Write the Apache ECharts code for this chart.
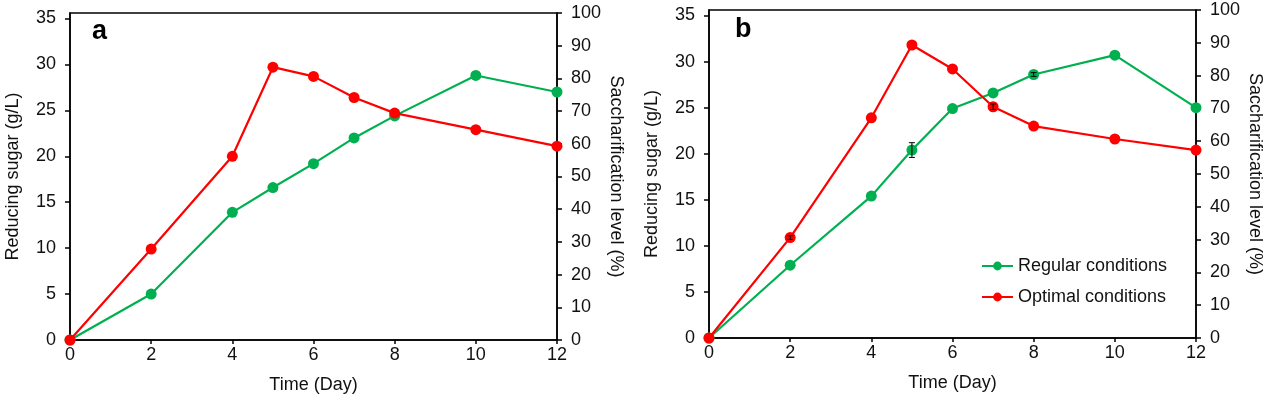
<!DOCTYPE html>
<html>
<head>
<meta charset="utf-8">
<script src="https://cdn.jsdelivr.net/npm/echarts@6/dist/echarts.min.js"></script>
<style>
  html, body { margin: 0; padding: 0; background: #fff; }
  #chart { width: 1269px; height: 399px; }
</style>
</head>
<body>
<div id="chart"></div>
<script>
// time points (days)
const days = [0, 2, 4, 5, 6, 7, 8, 10, 12];

// panel a – reducing sugar (g/L)
const regularA = [0, 5.0, 13.9, 16.6, 19.2, 22.0, 24.4, 28.8, 27.0];
const optimalA = [0, 9.9, 20.0, 29.7, 28.7, 26.4, 24.7, 22.9, 21.1];

// panel b – reducing sugar (g/L)
const regularB = [0, 7.9, 15.4, 20.4, 24.9, 26.6, 28.6, 30.7, 25.0];
const optimalB = [0, 10.9, 23.9, 31.8, 29.2, 25.1, 23.0, 21.6, 20.4];

// error bars visible in panel b: [day, low, high]
const errRegularB = [[5, 19.6, 21.2], [8, 28.4, 28.8]];
const errOptimalB = [[2, 10.7, 11.1], [7, 24.8, 25.4]];

const leftTicks = [0, 5, 10, 15, 20, 25, 30, 35];

const GREEN = "#00b050";
const RED = "#ff0000";
const FONT = "'Liberation Sans', Arial, sans-serif";

const chart = echarts.init(document.getElementById("chart"));

const axisLine = { show: true, lineStyle: { color: "#000", width: 1.5 } };
const axisLabel = { color: "#111", fontSize: 18, fontFamily: FONT };
const nameStyle = { color: "#111", fontSize: 18, fontFamily: FONT };

function xAxis(gridIndex) {
  return {
    type: "value",
    gridIndex,
    min: 0,
    max: 12,
    interval: 2,
    name: "Time (Day)",
    nameLocation: "middle",
    nameGap: 36,
    nameTextStyle: nameStyle,
    axisLine,
    axisTick: { show: true, inside: false, length: 4, lineStyle: { color: "#000", width: 1.5 } },
    axisLabel: { ...axisLabel, margin: 6 },
    splitLine: { show: false },
  };
}

function leftAxis(gridIndex) {
  return {
    type: "value",
    gridIndex,
    position: "left",
    min: 0,
    max: 35.6,
    name: "Reducing sugar (g/L)",
    nameLocation: "middle",
    nameGap: 48,
    nameTextStyle: nameStyle,
    axisLine,
    axisTick: { show: true, length: 5, customValues: leftTicks, lineStyle: { color: "#000", width: 1.5 } },
    axisLabel: { ...axisLabel, margin: 14, customValues: leftTicks },
    splitLine: { show: false },
  };
}

function rightAxis(gridIndex) {
  return {
    type: "value",
    gridIndex,
    position: "right",
    min: 0,
    max: 100,
    interval: 10,
    name: "Saccharification level (%)",
    nameLocation: "middle",
    nameRotate: -90,
    nameGap: 50,
    nameTextStyle: nameStyle,
    axisLine,
    axisTick: { show: true, length: 5, lineStyle: { color: "#000", width: 1.5 } },
    axisLabel: { ...axisLabel, margin: 14 },
    splitLine: { show: false },
  };
}

function lineSeries(name, values, color, axisIdx) {
  return {
    name,
    type: "line",
    xAxisIndex: axisIdx,
    yAxisIndex: axisIdx * 2,
    data: days.map((d, i) => [d, values[i]]),
    symbol: "circle",
    symbolSize: 11,
    lineStyle: { color, width: 2.2 },
    itemStyle: { color },
    z: color === RED ? 4 : 3,
  };
}

function errorSeries(data, axisIdx) {
  return {
    type: "custom",
    xAxisIndex: axisIdx,
    yAxisIndex: axisIdx * 2,
    data,
    z: 5,
    silent: true,
    renderItem: (params, api) => {
      const top = api.coord([api.value(0), api.value(2)]);
      const bot = api.coord([api.value(0), api.value(1)]);
      const w = 3;
      const style = { stroke: "#000", lineWidth: 1 };
      return {
        type: "group",
        children: [
          { type: "line", shape: { x1: top[0], y1: top[1], x2: bot[0], y2: bot[1] }, style },
          { type: "line", shape: { x1: top[0] - w, y1: top[1], x2: top[0] + w, y2: top[1] }, style },
          { type: "line", shape: { x1: bot[0] - w, y1: bot[1], x2: bot[0] + w, y2: bot[1] }, style },
        ],
      };
    },
  };
}

const option = {
  animation: false,
  backgroundColor: "#fff",
  textStyle: { fontFamily: FONT },
  grid: [
    { left: 70, right: 712, top: 13, bottom: 59, show: true, borderColor: "#000", borderWidth: 1.5 },
    { left: 709, right: 73, top: 10, bottom: 61, show: true, borderColor: "#000", borderWidth: 1.5 },
  ],
  xAxis: [xAxis(0), xAxis(1)],
  yAxis: [leftAxis(0), rightAxis(0), leftAxis(1), rightAxis(1)],
  legend: {
    data: ["Regular conditions", "Optimal conditions"],
    orient: "vertical",
    left: 976,
    top: 252,
    itemWidth: 31,
    itemHeight: 11,
    itemGap: 13,
    textStyle: { color: "#111", fontSize: 18, fontFamily: FONT },
  },
  graphic: [
    { type: "text", left: 92, top: 18, style: { text: "a", font: `bold 27px ${FONT}`, fill: "#000" } },
    { type: "text", left: 735, top: 16, style: { text: "b", font: `bold 27px ${FONT}`, fill: "#000" } },
  ],
  series: [
    lineSeries("Regular conditions", regularA, GREEN, 0),
    lineSeries("Optimal conditions", optimalA, RED, 0),
    lineSeries("Regular conditions", regularB, GREEN, 1),
    lineSeries("Optimal conditions", optimalB, RED, 1),
    errorSeries(errRegularB, 1),
    errorSeries(errOptimalB, 1),
  ],
};

chart.setOption(option);
</script>
</body>
</html>
